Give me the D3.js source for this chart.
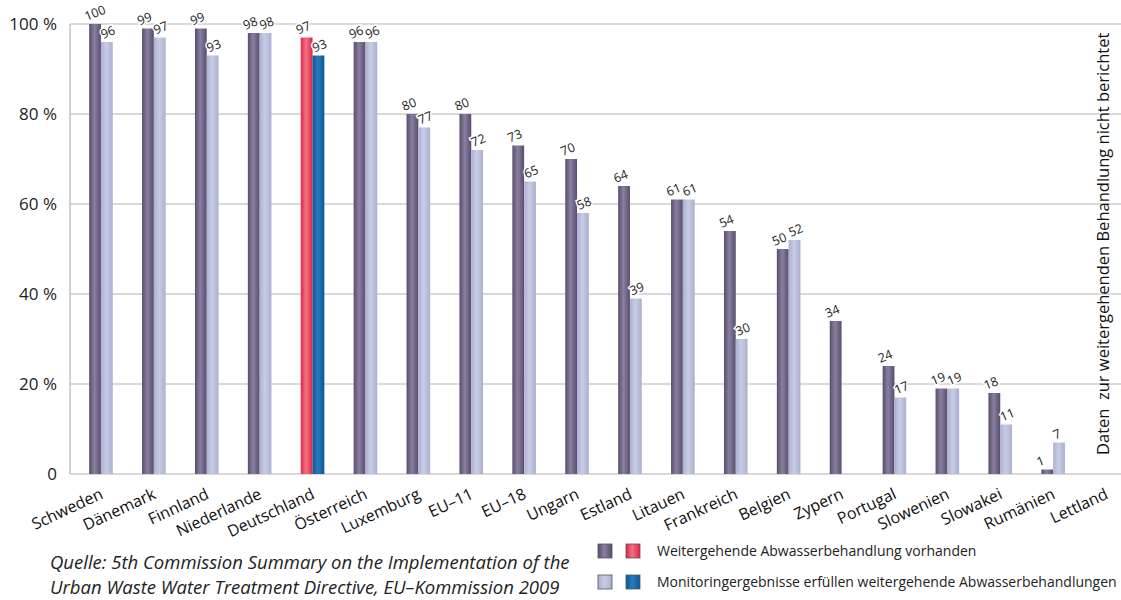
<!DOCTYPE html>
<html><head><meta charset="utf-8">
<script src="https://cdn.jsdelivr.net/npm/d3@7/dist/d3.min.js"></script>
<style>
body{margin:0;background:#fff;}
svg{display:block;font-family:"Open Sans","Noto Sans",sans-serif;}
</style></head><body>
<svg id="c" width="1121" height="600"></svg>
<script>
const categories = ["Schweden","Dänemark","Finnland","Niederlande","Deutschland","Österreich","Luxemburg","EU-11","EU-18","Ungarn","Estland","Litauen","Frankreich","Belgien","Zypern","Portugal","Slowenien","Slowakei","Rumänien","Lettland"];
const vorhanden = [100,99,99,98,97,96,80,80,73,70,64,61,54,50,34,24,19,18,1,null];
const monitoring = [96,97,93,98,93,96,77,72,65,58,39,61,30,52,null,17,19,11,7,null];
const yTicks = [0,20,40,60,80,100];
const yTickLabels = ["0","20 %","40 %","60 %","80 %","100 %"];
const highlight = "Deutschland";
const legendLabels = ["Weitergehende Abwasserbehandlung vorhanden","Monitoringergebnisse erfüllen weitergehende Abwasserbehandlungen"];
const sourceLines = ["Quelle: 5th Commission Summary on the Implementation of the","Urban Waste Water Treatment Directive, EU-Kommission 2009"];
const sideNote = "Daten\u00a0 zur weitergehenden Behandlung nicht berichtet";

const svg = d3.select("#c");
const defs = svg.append("defs");
function grad(id, edge, mid){
  const g = defs.append("linearGradient").attr("id",id).attr("x1","0").attr("x2","1").attr("y1","0").attr("y2","0");
  g.append("stop").attr("offset","0%").attr("stop-color",edge);
  g.append("stop").attr("offset","45%").attr("stop-color",mid);
  g.append("stop").attr("offset","100%").attr("stop-color",edge);
}
grad("gDark","#5a4d70","#8a7f9e");
grad("gLight","#aab0d2","#c8cce4");
grad("gRed","#e0234a","#f2737f");
grad("gBlue","#0b5796","#2a7bbd");

const x = d3.scaleBand().domain(categories).range([74.5,1132.5]).paddingInner(0).paddingOuter(0);
const y = d3.scaleLinear().domain([0,100]).range([474,24]);
const bw = 11.8;

svg.append("g").selectAll("line").data(yTicks).join("line")
  .attr("x1",70).attr("x2",1121).attr("y1",d=>y(d)).attr("y2",d=>y(d))
  .attr("stroke","#b4b4b4").attr("stroke-width",1.2);
svg.append("line").attr("x1",70).attr("x2",70).attr("y1",y(100)).attr("y2",y(0)).attr("stroke","#b4b4b4").attr("stroke-width",1.2);

svg.append("g").selectAll("text").data(yTicks).join("text")
  .attr("x",57).attr("y",d=>y(d)+6).attr("text-anchor","end")
  .attr("font-size",17).attr("fill","#222").text((d,i)=>yTickLabels[i]);

const cx = c => x(c)+x.bandwidth()/2;
const g = svg.append("g");
const dataRows = categories.map((c,i)=>({c,a:vorhanden[i],b:monitoring[i]}));
g.selectAll("rect.a").data(dataRows.filter(d=>d.a!=null)).join("rect")
  .attr("x",d=>cx(d.c)-bw).attr("width",bw).attr("y",d=>y(d.a)).attr("height",d=>y(0)-y(d.a))
  .attr("fill",d=>d.c===highlight?"url(#gRed)":"url(#gDark)");
g.selectAll("rect.b").data(dataRows.filter(d=>d.b!=null)).join("rect")
  .attr("x",d=>cx(d.c)).attr("width",bw).attr("y",d=>y(d.b)).attr("height",d=>y(0)-y(d.b))
  .attr("fill",d=>d.c===highlight?"url(#gBlue)":"url(#gLight)");

const lbl = [];
dataRows.forEach(d=>{
  if(d.a!=null) lbl.push({x:cx(d.c)-bw-2.5, v:d.a});
  if(d.b!=null) lbl.push({x:cx(d.c)+2, v:d.b});
});
svg.append("g").selectAll("g").data(lbl).join("g")
  .attr("transform",d=>`translate(${d.x},${y(d.v)-3}) rotate(-22)`)
  .append("text")
  .attr("font-size",12.5).attr("fill","#222")
  .attr("stroke","#fff").attr("stroke-width",3).attr("paint-order","stroke")
  .text(d=>d.v);

const catG = svg.append("g").selectAll("g").data(categories).join("g")
  .attr("transform",c=>`translate(${cx(c)-2},487) rotate(-25)`);
catG.append("text")
  .attr("text-anchor","end").attr("dy","0.75em")
  .attr("font-size",16).attr("fill","#111").text(c=>c.replace("-","\u2013"));

svg.append("text").attr("transform","translate(1109,455) rotate(-90)")
  .attr("font-size",16.5).attr("fill","#111").text(sideNote);

svg.append("g").selectAll("text").data(sourceLines).join("text")
  .attr("x",50).attr("y",(d,i)=>569+i*25).attr("font-size",18.5).attr("font-style","italic")
  .attr("fill","#222").text(d=>d.replace("-","\u2013"));

const lg = svg.append("g");
const legendFills = [["url(#gDark)","url(#gRed)"],["url(#gLight)","url(#gBlue)"]];
legendLabels.forEach((t,i)=>{
  const yy = 544+i*31;
  legendFills[i].forEach((f,j)=>{
    lg.append("rect").attr("x",598+j*28).attr("y",yy).attr("width",14).attr("height",14)
      .attr("fill",f).attr("stroke","#555").attr("stroke-width",0.8);
  });
  lg.append("text").attr("x",657).attr("y",yy+12).attr("font-size",14).attr("fill","#222").text(t);
});
</script>
</body></html>
